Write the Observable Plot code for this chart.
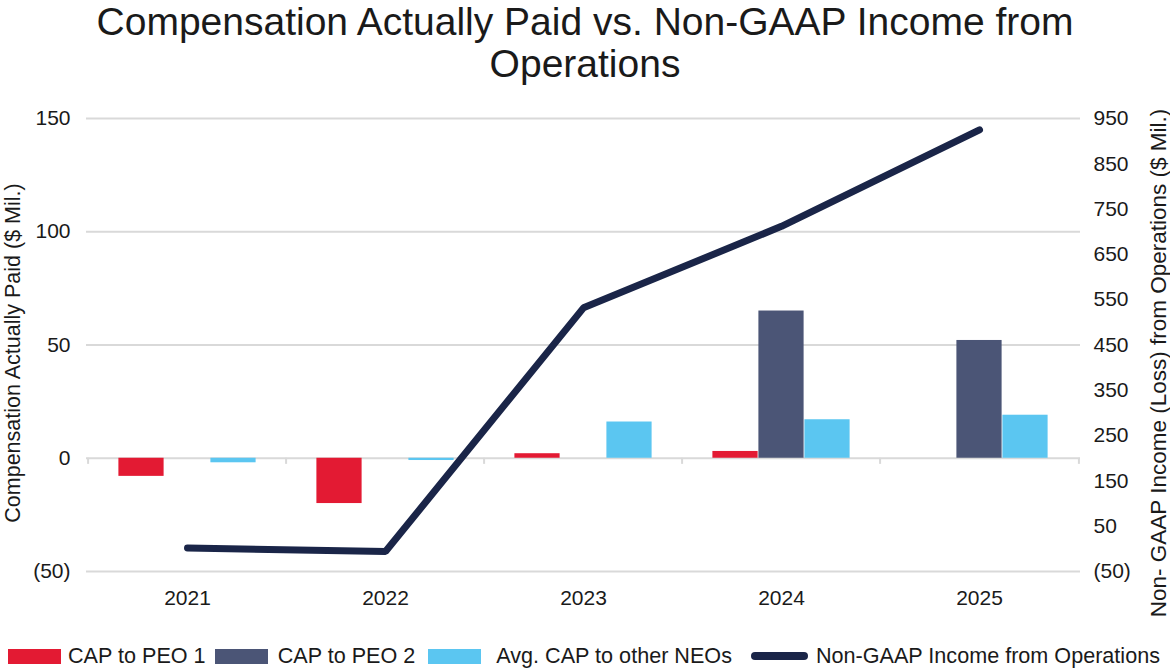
<!DOCTYPE html>
<html><head><meta charset="utf-8">
<script src="https://cdn.jsdelivr.net/npm/d3@7"></script>
<script src="https://cdn.jsdelivr.net/npm/@observablehq/plot@0.6"></script>
<style>
body{margin:0;background:#fff;font-family:"Liberation Sans",Arial,Helvetica,sans-serif;color:#1a1a1a;}
#wrap{width:1170px;height:670px;position:relative;overflow:hidden;}
#title{height:95px;text-align:center;font-size:39px;line-height:42px;box-sizing:border-box;padding-top:1px;}
#chart{height:535px;}
#legend{position:absolute;left:0;top:643px;height:26px;display:flex;align-items:center;font-size:21.6px;white-space:nowrap;}
.sw{display:inline-block;width:53px;height:15px;}
.ln{display:inline-block;width:57px;height:8px;border-radius:4px;}
</style></head>
<body><div id="wrap">
<div id="title">Compensation Actually Paid vs. Non-GAAP Income from<br>Operations</div>
<div id="chart"></div>
<div id="legend"></div>
</div>
<script>
const years = ["2021", "2022", "2023", "2024", "2025"];
const capPeo1 = [-8, -20, 2, 3, null];
const capPeo2 = [null, null, null, 65, 52];
const avgNeo = [-2, -1, 16, 17, 19];
const nonGaapIncome = [2, -6, 532, 712, 925];
const leftTicks = [-50, 0, 50, 100, 150];
const rightTicks = [-50, 50, 150, 250, 350, 450, 550, 650, 750, 850, 950];
const seriesNames = ["CAP to PEO 1", "CAP to PEO 2", "Avg. CAP to other NEOs", "Non-GAAP Income from Operations"];
const colors = ["#e31a33", "#4b5576", "#5bc6f1", "#1a2548"];

// secondary axis: right domain [-50, 950] maps onto left domain [-50, 150]
const toLeft = r => (r + 50) / 5 - 50;
const fmt = d => d < 0 ? `(${Math.abs(d)})` : `${d}`;

const rows = (vals) => years.map((y, i) => ({year: y, value: vals[i]})).filter(d => d.value != null);
const W = 1170, ML = 86, MR = 90;
const bw = (W - ML - MR) / years.length;
const barW = 46;
const inset = (bw - barW) / 2;
const grid = "#d9d9d9";

const chart = Plot.plot({
  width: W,
  height: 535,
  marginLeft: ML,
  marginRight: MR,
  marginTop: 23,
  marginBottom: 59,
  style: {fontFamily: "'Liberation Sans', Arial, Helvetica, sans-serif", fontSize: "21px", color: "#1a1a1a", background: "#fff", overflow: "visible"},
  x: {domain: years, padding: 0, axis: null},
  y: {domain: [-50, 150], axis: null},
  marks: [
    Plot.ruleY(leftTicks, {stroke: grid, strokeWidth: 2}),
    Plot.ruleX(years, {x: d => d, y1: 0, y2: -2.7, dx: -bw / 2, stroke: grid, strokeWidth: 2}),
    Plot.ruleX([years[years.length - 1]], {x: d => d, y1: 0, y2: -2.7, dx: bw / 2, stroke: grid, strokeWidth: 2}),
    Plot.barY(rows(capPeo1), {x: "year", y: "value", fill: colors[0], insetLeft: inset, insetRight: inset, dx: -barW}),
    Plot.barY(rows(capPeo2), {x: "year", y: "value", fill: colors[1], insetLeft: inset, insetRight: inset}),
    Plot.barY(rows(avgNeo), {x: "year", y: "value", fill: colors[2], insetLeft: inset, insetRight: inset, dx: barW}),
    Plot.line(rows(nonGaapIncome), {x: "year", y: d => toLeft(d.value), stroke: colors[3], strokeWidth: 7, strokeLinecap: "round", strokeLinejoin: "miter"}),
    Plot.text(leftTicks, {y: d => d, text: fmt, frameAnchor: "left", textAnchor: "end", dx: -16, fontSize: 21}),
    Plot.text(rightTicks, {y: d => toLeft(d), text: fmt, frameAnchor: "right", textAnchor: "start", dx: 13, fontSize: 21}),
    Plot.text(years, {x: d => d, text: d => d, frameAnchor: "bottom", dy: 33, fontSize: 21}),
    Plot.text(["Compensation Actually Paid ($ Mil.)"], {frameAnchor: "left", textAnchor: "middle", rotate: -90, dx: -73, dy: 8, fontSize: 21.5}),
    Plot.text(["Non- GAAP Income (Loss) from Operations ($ Mil.)"], {frameAnchor: "right", textAnchor: "middle", rotate: -90, dx: 78, dy: 18, fontSize: 22.5})
  ]
});
document.getElementById("chart").appendChild(chart);

const lg = document.getElementById("legend");
const margins = [[8, 7], [9, 10], [13, 15], [19, 8]];
seriesNames.forEach((name, i) => {
  const s = document.createElement("span");
  s.className = i === 3 ? "ln" : "sw";
  s.style.background = colors[i];
  s.style.marginLeft = margins[i][0] + "px";
  const t = document.createElement("span");
  t.textContent = name;
  t.style.marginLeft = margins[i][1] + "px";
  lg.appendChild(s); lg.appendChild(t);
});
</script>
</body></html>
